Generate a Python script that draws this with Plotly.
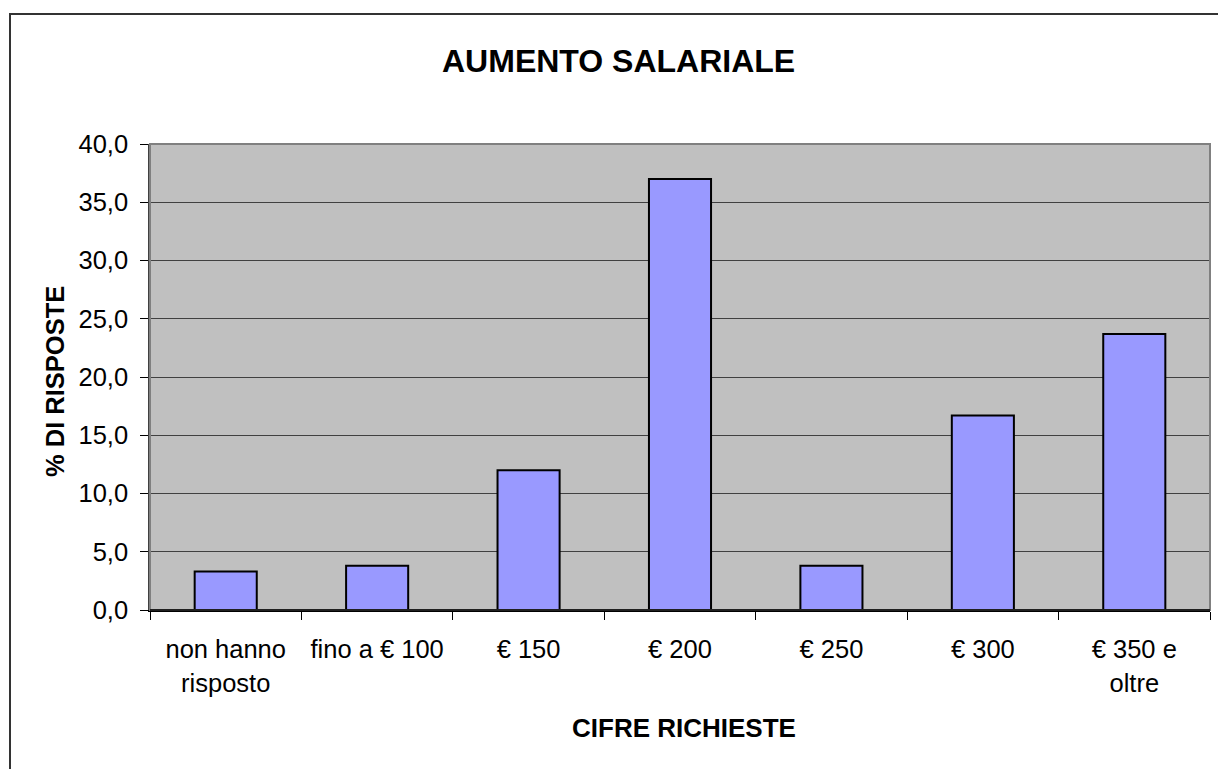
import plotly.graph_objects as go

categories = ["non hanno<br>risposto", "fino a € 100", "€ 150", "€ 200", "€ 250", "€ 300", "€ 350 e<br>oltre"]
values = [3.3, 3.8, 12.0, 37.0, 3.8, 16.7, 23.7]
y_ticks = [0, 5, 10, 15, 20, 25, 30, 35, 40]

W, H = 1218, 769
L, R, T, B = 150, 8, 144, 159
pw, ph = W - L - R, H - T - B

def px(x):
    return (x - L) / pw

def py(y):
    return (H - B - y) / ph

FONT = "Arial, Liberation Sans, sans-serif"

fig = go.Figure(go.Bar(
    x=categories, y=values, width=0.41,
    marker=dict(color="#9999FF", line=dict(color="#000000", width=2)),
))

fig.update_layout(
    width=W, height=H,
    margin=dict(l=L, r=R, t=T, b=B, pad=0),
    paper_bgcolor="white", plot_bgcolor="#C0C0C0",
    separators=",.",
    showlegend=False,
    font=dict(family=FONT, size=25.5, color="black"),
    xaxis=dict(
        type="category", tickson="boundaries", ticks="outside", ticklen=8,
        tickcolor="#000000", tickwidth=1, showgrid=False,
        showline=True, linecolor="#000000", linewidth=1.5,
        tickfont=dict(family=FONT, size=25.5), range=[-0.5, 6.5],
        ticklabelstandoff=16,
    ),
    yaxis=dict(
        range=[0, 40], tickvals=y_ticks, tickformat=".1f",
        ticks="outside", ticklen=8, tickcolor="#000000", tickwidth=1,
        showgrid=True, gridcolor="#404040", gridwidth=1,
        zeroline=False, showline=True, linecolor="#404040", linewidth=1.5,
        tickfont=dict(family=FONT, size=25.5), ticklabelstandoff=7,
    ),
    shapes=[
        dict(type="rect", xref="paper", yref="paper", x0=0, x1=1, y0=0, y1=1,
             line=dict(color="#808080", width=2), layer="above"),
        dict(type="line", xref="paper", yref="paper", x0=0, x1=1, y0=0, y1=0,
             line=dict(color="#000000", width=1.5), layer="above"),
        dict(type="rect", xref="paper", yref="paper", x0=px(10), x1=px(1240), y0=py(790), y1=py(14),
             line=dict(color="#333333", width=2), layer="below"),
    ],
    annotations=[
        dict(text="<b>AUMENTO SALARIALE</b>", xref="paper", yref="paper",
             x=px(618), y=py(61), xanchor="center", yanchor="middle", showarrow=False,
             font=dict(family=FONT, size=32)),
        dict(text="<b>% DI RISPOSTE</b>", xref="paper", yref="paper",
             x=px(55), y=py(382), xanchor="center", yanchor="middle", showarrow=False,
             textangle=-90, font=dict(family=FONT, size=25.5)),
        dict(text="<b>CIFRE RICHIESTE</b>", xref="paper", yref="paper",
             x=px(684), y=py(728), xanchor="center", yanchor="middle", showarrow=False,
             font=dict(family=FONT, size=26)),
    ],
)

fig.write_html("out.html", config={"displayModeBar": False},
               post_script="document.body.style.margin='0';document.body.style.overflow='hidden';")
